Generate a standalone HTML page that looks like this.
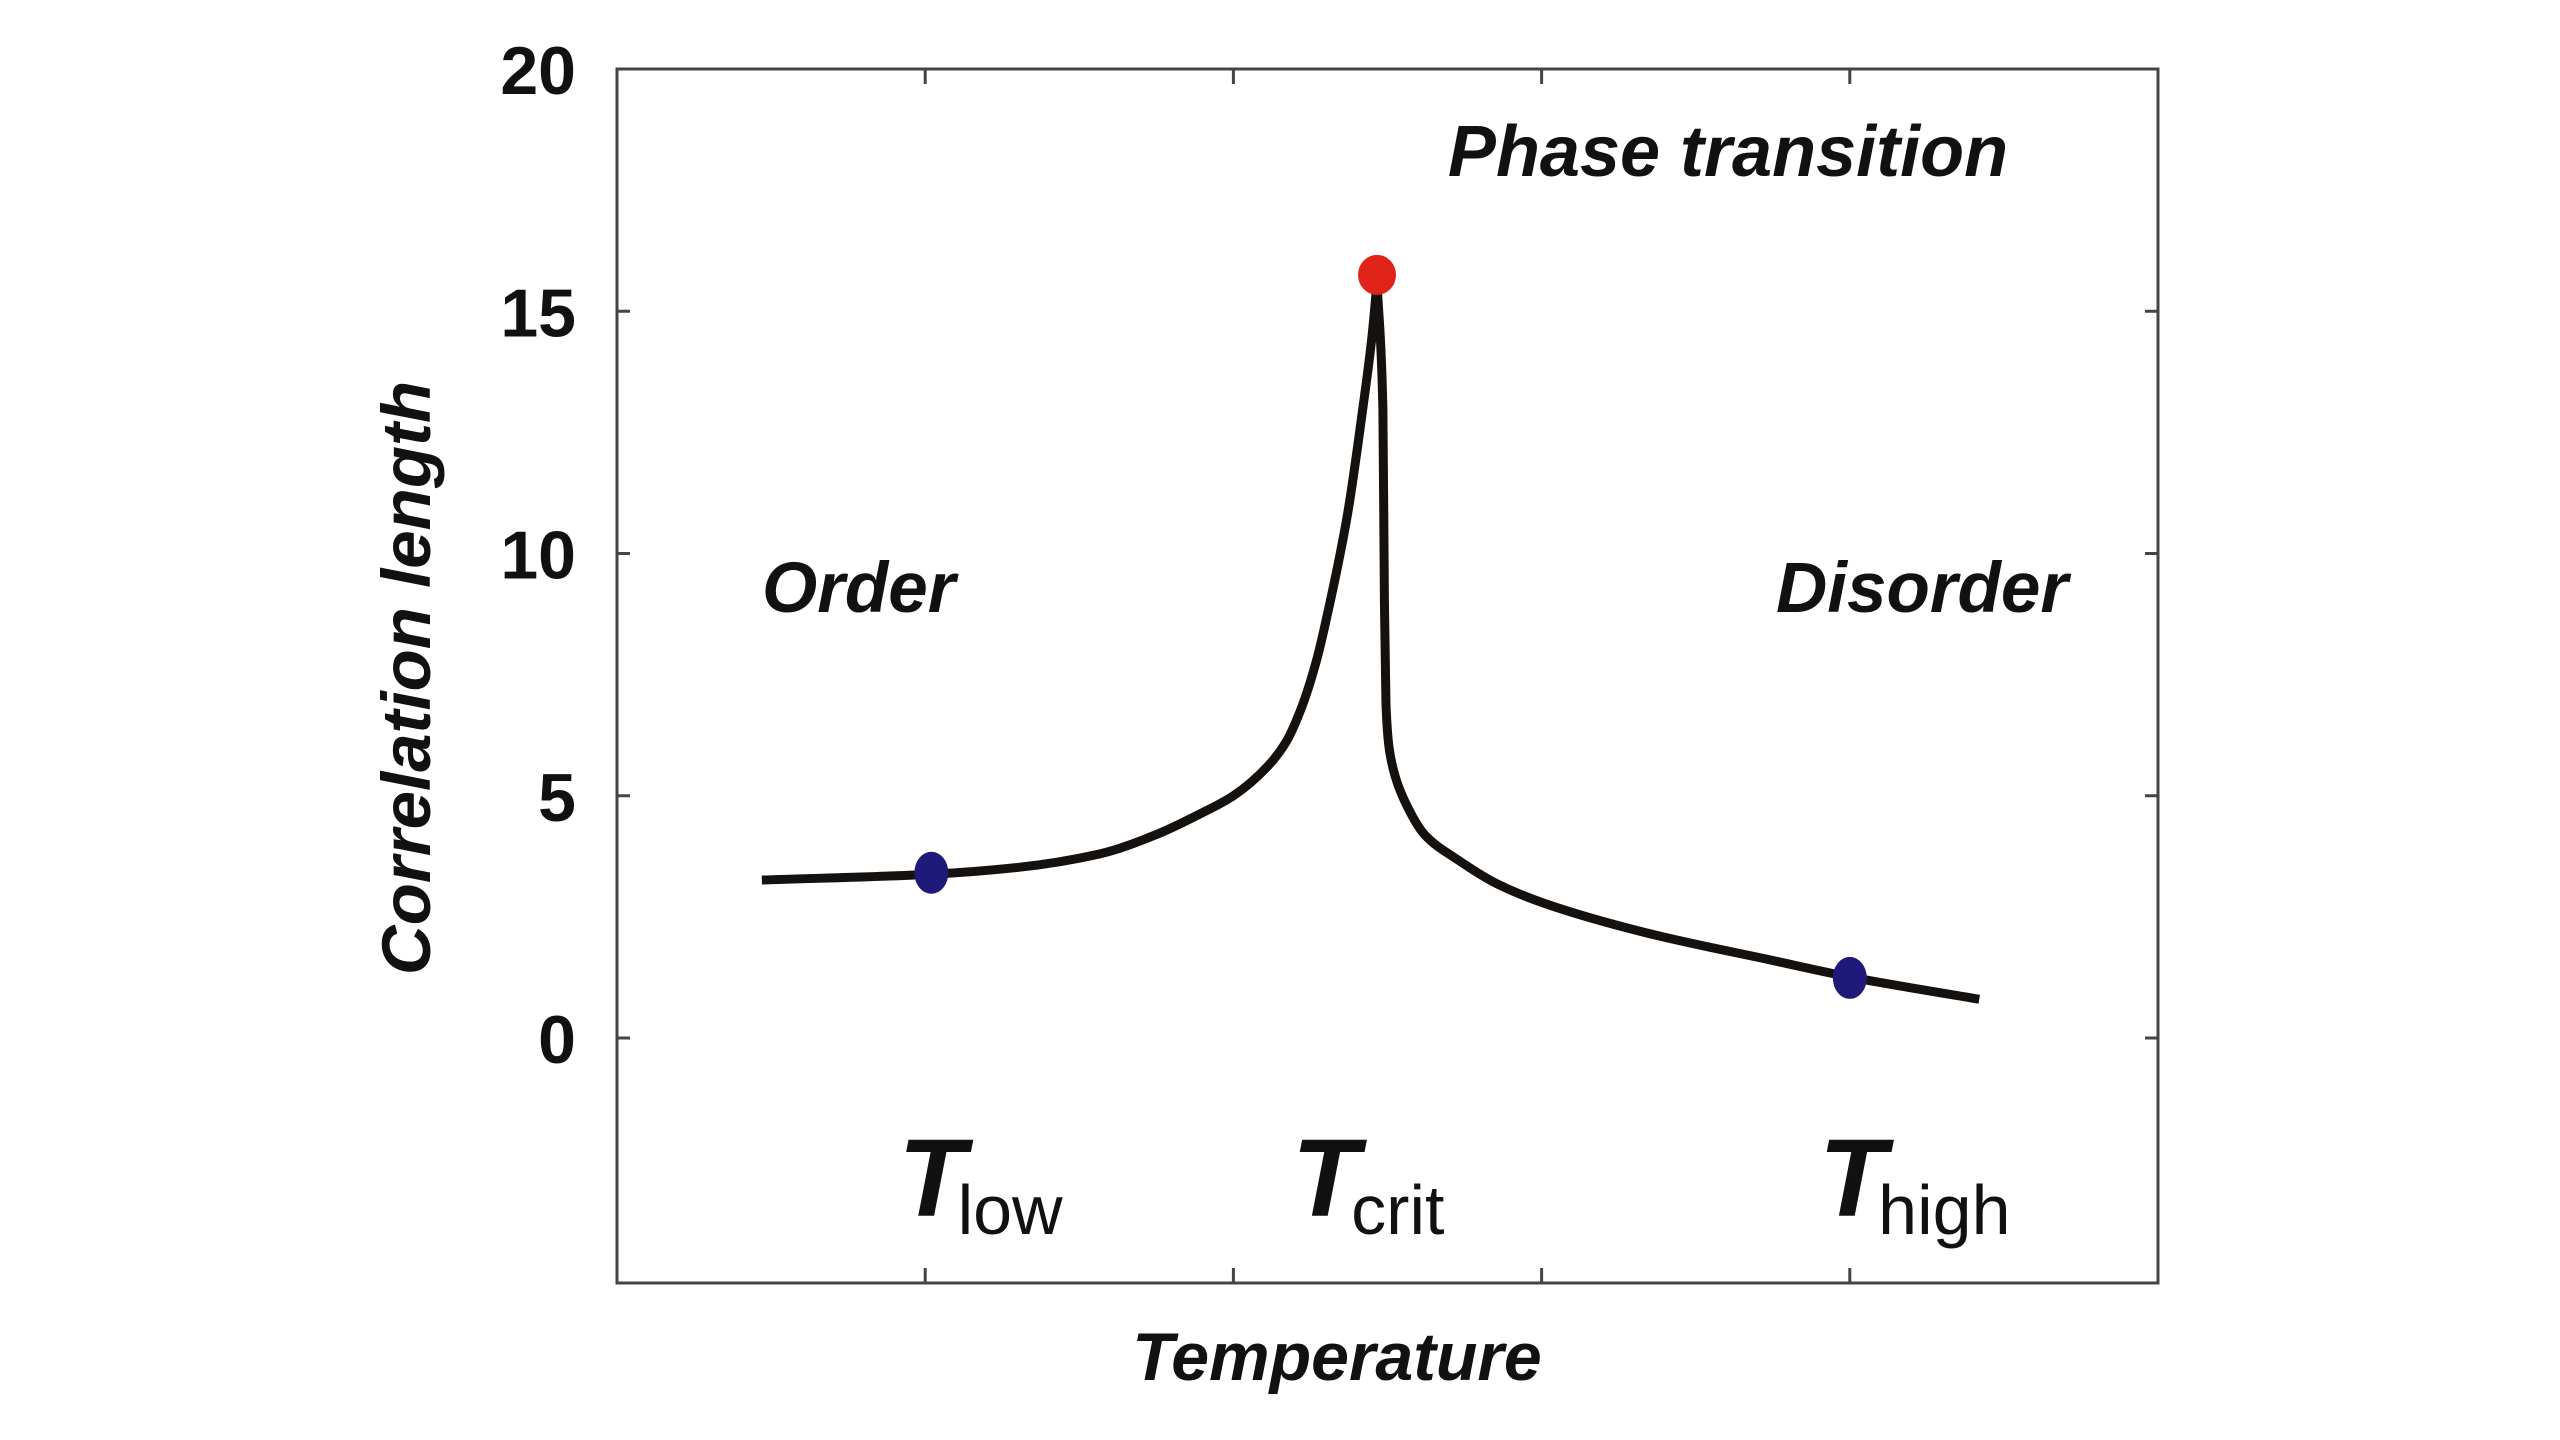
<!DOCTYPE html>
<html><head><meta charset="utf-8"><style>
html,body{margin:0;padding:0;background:#fff}
svg{display:block}
text{font-family:"Liberation Sans",Arial,sans-serif;fill:#111}
</style></head><body>
<svg id="chart" width="2560" height="1440" viewBox="0 0 2560 1440">
<rect width="2560" height="1440" fill="#fff"/>
<g id="axes"></g>
<g id="marks"></g>
<g id="labels">
<text x="1728" y="176" font-size="72" font-weight="bold" font-style="italic" text-anchor="middle">Phase transition</text>
<text x="762" y="612" font-size="71" font-weight="bold" font-style="italic">Order</text>
<text x="1776" y="612" font-size="71" font-weight="bold" font-style="italic">Disorder</text>
<text x="1337" y="1380" font-size="68" font-weight="bold" font-style="italic" text-anchor="middle">Temperature</text>
<text transform="translate(430,678) rotate(-90)" font-size="69" font-weight="bold" font-style="italic" text-anchor="middle">Correlation length</text>
</g>
</svg>
<script>
const yTicks = [0, 5, 10, 15, 20];
const xTicks = [1, 2, 3, 4];
const tempLabels = ["low", "crit", "high"];
const tempPositions = [0.913, 2.19, 3.9];
const curveLeftX = [0.47, 1.02, 1.3, 1.567, 1.75, 1.89, 2.0, 2.11, 2.17, 2.22, 2.27, 2.3, 2.37, 2.42, 2.45, 2.466];
const curveLeftY = [3.26, 3.38, 3.52, 3.8, 4.2, 4.62, 5.0, 5.6, 6.1, 6.8, 7.8, 8.6, 10.8, 13.0, 14.5, 15.6];
const curveRightX = [2.466, 2.485, 2.49, 2.495, 2.505, 2.525, 2.555, 2.62, 2.73, 2.85, 3.0, 3.34, 3.75, 4.0, 4.42];
const curveRightY = [15.6, 13.0, 9.0, 6.9, 6.0, 5.4, 4.9, 4.2, 3.67, 3.2, 2.8, 2.17, 1.6, 1.26, 0.8];
const pointX = [1.02, 2.466, 4.0];
const pointY = [3.41, 15.75, 1.24];
const pointKind = ["low", "crit", "high"];

const L = 617, R = 2158, T = 69, B = 1283;
const X0 = 0, X1 = 5;
const Y0px = 1038, Ypu = 48.45;
function sx(v){ return L + (v - X0) / (X1 - X0) * (R - L); }
function sy(v){ return Y0px - v * Ypu; }
const NS = "http://www.w3.org/2000/svg";
function mk(tag, attrs, parent){ const e = document.createElementNS(NS, tag); for (const k in attrs) e.setAttribute(k, attrs[k]); parent.appendChild(e); return e; }

const axes = document.getElementById("axes");
const frame = mk("rect", {x:L, y:T, width:R-L, height:B-T, fill:"none", stroke:"#444", "stroke-width":3}, axes);


yTicks.forEach(function(v){
  const y = sy(v);
  if (v !== 20) {
    const t1 = mk("line", {x1:L, x2:L+13, y1:y, y2:y, stroke:"#444", "stroke-width":3}, axes);
    
    
    const t2 = mk("line", {x1:R, x2:R-13, y1:y, y2:y, stroke:"#444", "stroke-width":3}, axes);
    
    
  }
  const lb = mk("text", {x:576, y:y+25, "font-size":68, "font-weight":"bold", "text-anchor":"end"}, axes);
  lb.textContent = String(v);
  
  
});
xTicks.forEach(function(v){
  const x = sx(v);
  const t1 = mk("line", {x1:x, x2:x, y1:B, y2:B-15, stroke:"#444", "stroke-width":3}, axes);
  
  
  const t2 = mk("line", {x1:x, x2:x, y1:T, y2:T+15, stroke:"#444", "stroke-width":3}, axes);
  
  
});
tempLabels.forEach(function(s, i){
  const x = sx(tempPositions[i]);
  const g = mk("text", {x:x, y:1216}, axes);
  
  
  const a = mk("tspan", {"font-size":110, "font-weight":"bold", "font-style":"italic"}, g);
  a.textContent = "T";
  const b = mk("tspan", {"font-size":70, dy:18, dx:-8}, g);
  b.textContent = s;
});

const marks = document.getElementById("marks");
function pathFrom(xs, ys){
  const p = xs.map(function(v,i){ return [sx(v), sy(ys[i])]; });
  const n = p.length;
  const d = [], m = [];
  for (let i = 0; i < n-1; i++) d.push((p[i+1][1]-p[i][1])/(p[i+1][0]-p[i][0]));
  m[0] = d[0]; m[n-1] = d[n-2];
  for (let i = 1; i < n-1; i++) {
    if (d[i-1]*d[i] <= 0) m[i] = 0;
    else { const h0 = p[i][0]-p[i-1][0], h1 = p[i+1][0]-p[i][0];
      const w1 = 2*h1+h0, w2 = h1+2*h0;
      m[i] = (w1+w2)/(w1/d[i-1]+w2/d[i]); }
  }
  let s = "M" + p[0][0] + "," + p[0][1];
  for (let i = 0; i < n-1; i++) {
    const h = (p[i+1][0]-p[i][0])/3;
    s += " C" + (p[i][0]+h) + "," + (p[i][1]+m[i]*h) + " " + (p[i+1][0]-h) + "," + (p[i+1][1]-m[i+1]*h) + " " + p[i+1][0] + "," + p[i+1][1];
  }
  return s;
}
const left = mk("path", {d:pathFrom(curveLeftX, curveLeftY), fill:"none", stroke:"#15110e", "stroke-width":9, "stroke-linejoin":"round"}, marks);


const right = mk("path", {d:pathFrom(curveRightX, curveRightY), fill:"none", stroke:"#15110e", "stroke-width":9, "stroke-linejoin":"round"}, marks);


pointX.forEach(function(v, i){
  const isCrit = pointKind[i] === "crit";
  const c = mk("ellipse", {cx:sx(v), cy:sy(pointY[i]), rx:isCrit?19:17, ry:isCrit?20:21, fill:isCrit?"#e2231a":"#1f1a7a"}, marks);
  
  
});
</script>
</body></html>
